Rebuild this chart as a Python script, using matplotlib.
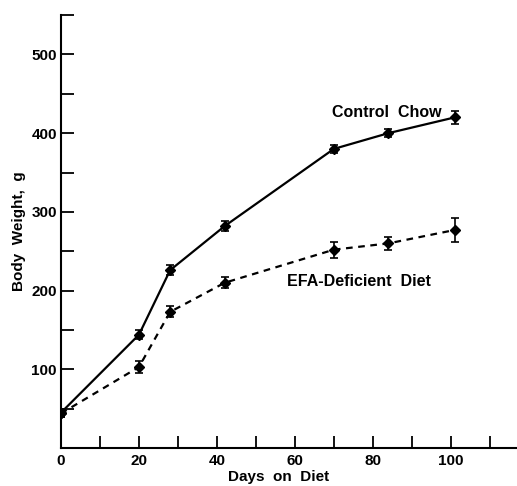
import matplotlib
matplotlib.use("Agg")
import matplotlib.pyplot as plt
from matplotlib.ticker import MultipleLocator

plt.rcParams['font.family'] = ['Liberation Sans', 'DejaVu Sans']
plt.rcParams['font.weight'] = 'bold'

# datos
dias = [0, 20, 28, 42, 70, 84, 101]
control = [45, 144, 226, 282, 380, 400, 420]
control_err = [5, 6, 6, 6, 5, 5, 8]
efa = [44, 103, 173, 210, 252, 260, 277]
efa_err = [5, 7, 7, 7, 10, 8, 15]

fig = plt.figure(figsize=(5.17, 4.86), dpi=100)
ax = fig.add_axes([0.118, 0.078, 0.882, 0.891])

ax.errorbar(dias, control, yerr=control_err, color='black', lw=1.6, marker='D',
            ms=5.5, capsize=3, elinewidth=1.2, capthick=1.2)
ax.errorbar(dias, efa, yerr=efa_err, color='black', lw=1.6, ls='--', marker='D',
            ms=5.5, capsize=3, elinewidth=1.2, capthick=1.2, dashes=(3, 2.5))

ax.text(69.5, 420, 'Control  Chow', fontsize=11.5, fontweight='bold')
ax.text(58, 206, 'EFA-Deficient  Diet', fontsize=11.5, fontweight='bold')

ax.set_xlim(0, 117)
ax.set_ylim(0, 550)
ax.set_xticks([0, 20, 40, 60, 80, 100])
ax.set_yticks([100, 200, 300, 400, 500])
ax.xaxis.set_minor_locator(MultipleLocator(10))
ax.yaxis.set_minor_locator(MultipleLocator(50))
ax.tick_params(which='both', direction='in', length=9, width=1.3, labelsize=11)
ax.tick_params(axis='x', pad=4)
ax.tick_params(axis='y', pad=3)
for t in ax.get_xticklabels() + ax.get_yticklabels():
    t.set_fontweight('bold')

ax.spines['top'].set_visible(False)
ax.spines['right'].set_visible(False)
ax.spines['left'].set_linewidth(1.5)
ax.spines['bottom'].set_linewidth(1.5)

ax.set_xlabel('Days  on  Diet', fontsize=11, fontweight='bold')
ax.xaxis.set_label_coords(0.478, -0.05)
ax.set_ylabel('Body  Weight,  g', fontsize=11, fontweight='bold', labelpad=4)

fig.savefig('out.png', dpi=100)
